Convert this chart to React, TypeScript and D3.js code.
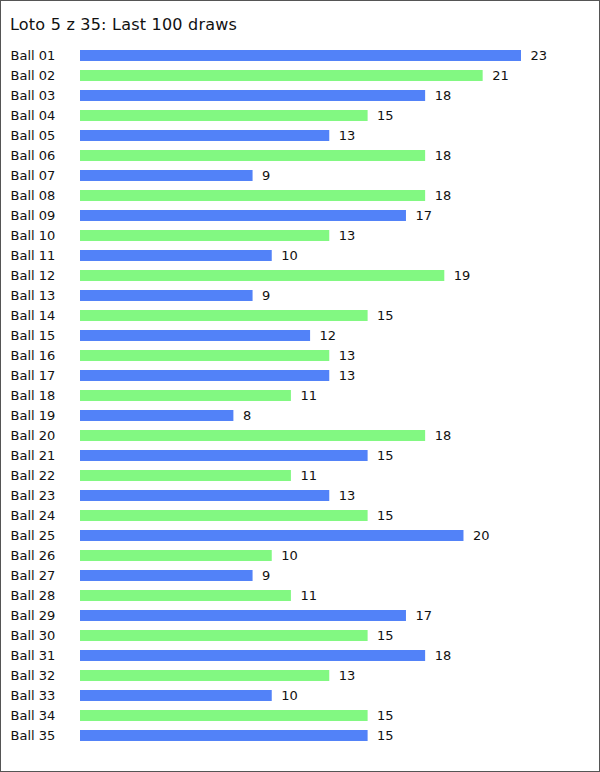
import React from "react";
import * as d3 from "d3";

const title = "Loto 5 z 35: Last 100 draws";
const balls = Array.from({ length: 35 }, (_, i) => `Ball ${String(i + 1).padStart(2, "0")}`);
const counts = [23, 21, 18, 15, 13, 18, 9, 18, 17, 13, 10, 19, 9, 15, 12, 13, 13, 11, 8, 18, 15, 11, 13, 15, 20, 10, 9, 11, 17, 15, 18, 13, 10, 15, 15];
const colors = ["#5282f8", "#82f882"];

const W = 600;
const H = 772;

export default function App() {
  const x = d3.scaleLinear().domain([0, 23]).range([80, 521]);
  const y = d3.scaleBand<string>().domain(balls).range([45, 745]);
  const font = "DejaVu Sans, Verdana, sans-serif";
  return (
    <svg width={W} height={H} style={{ position: "absolute", left: 0, top: 0 }}>
      <rect x={0.5} y={0.5} width={W - 1} height={H - 1} fill="#fff" stroke="#555" strokeWidth={1} />
      <text x={10} y={30} fontFamily={font} fontSize={16} letterSpacing={0.22} fill="#111">{title}</text>
      {balls.map((b, i) => {
        const yc = (y(b) as number) + 5;
        return (
          <g key={b}>
            <text x={10.5} y={yc + 10} fontFamily={font} fontSize={13} fill="#111">{b}</text>
            <rect x={x(0)} y={yc} width={x(counts[i]) - x(0)} height={11} fill={colors[i % 2]} />
            <text x={x(counts[i]) + 9.5} y={yc + 10} fontFamily={font} fontSize={13} fill="#111">{counts[i]}</text>
          </g>
        );
      })}
    </svg>
  );
}
